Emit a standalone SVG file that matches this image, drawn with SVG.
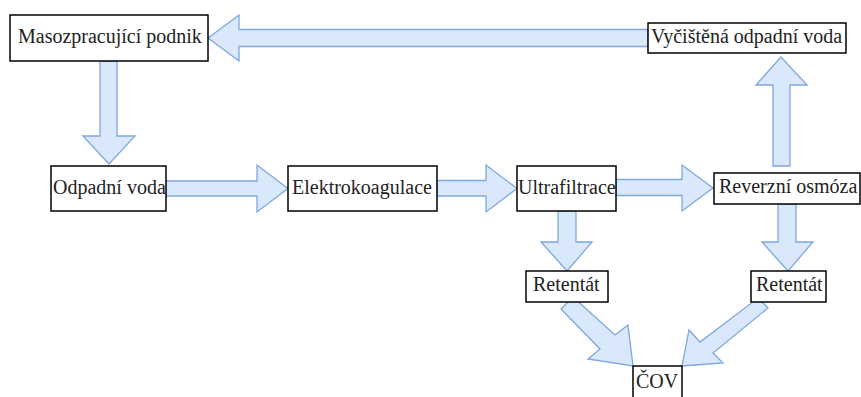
<svg xmlns="http://www.w3.org/2000/svg" width="861" height="397" viewBox="0 0 861 397">
<rect width="861" height="397" fill="#ffffff"/>
<g id="connectors" fill="#dae8fc" stroke="#7ea6e0" stroke-width="1.3">
<polygon points="208,38 239,15 239,29.5 648,29.5 648,46.5 239,46.5 239,61"/>
<polygon points="100,61 117,61 117,136 135,136 109,164 83,136 100,136"/>
<polygon points="166,181 257,181 257,165 288,188.5 257,212 257,196 166,196"/>
<polygon points="437,180.5 486,180.5 486,165 517,188.5 486,212 486,196 437,196"/>
<polygon points="616,179.5 682,179.5 682,165 713,188 682,211 682,195.5 616,195.5"/>
<polygon points="773,166 773,85 756,85 781,57 807,85 790,85 790,166"/>
<polygon points="558,211 576,211 576,242 592,242 567,271 541,242 558,242"/>
<polygon points="778,204 796,204 796,242 813,242 788,271 762,242 778,242"/>
<polygon points="561,309 573,297 615,335 628,325 633,366 588,359 600,349"/>
<polygon points="758,298 768,308 713,353 723,363 682,366 689,330 700,342"/>
</g>
<g id="nodes">
<g id="n-masozpracujici">
<rect x="10" y="15" width="198" height="46" fill="#ffffff" stroke="#000000" stroke-width="1.5"/>
<text x="18" y="43" font-size="20" font-family="Liberation Serif" fill="#222222">Masozpracující podnik</text>
</g>
<g id="n-vycistena">
<rect x="648" y="23" width="198" height="30" fill="#ffffff" stroke="#000000" stroke-width="1.5"/>
<text x="651" y="43" font-size="20" font-family="Liberation Serif" fill="#222222">Vyčištěná odpadní voda</text>
</g>
<g id="n-odpadni">
<rect x="51" y="166" width="115" height="45" fill="#ffffff" stroke="#000000" stroke-width="1.5"/>
<text x="53" y="194" font-size="20" font-family="Liberation Serif" fill="#222222">Odpadní voda</text>
</g>
<g id="n-elektro">
<rect x="288" y="166" width="149" height="45" fill="#ffffff" stroke="#000000" stroke-width="1.5"/>
<text x="292" y="194" font-size="20" font-family="Liberation Serif" fill="#222222">Elektrokoagulace</text>
</g>
<g id="n-ultra">
<rect x="517" y="166" width="99" height="45" fill="#ffffff" stroke="#000000" stroke-width="1.5"/>
<text x="518" y="194" font-size="20" font-family="Liberation Serif" fill="#222222">Ultrafiltrace</text>
</g>
<g id="n-reverzni">
<rect x="714" y="173" width="146" height="31" fill="#ffffff" stroke="#000000" stroke-width="1.5"/>
<text x="719" y="193" font-size="20" font-family="Liberation Serif" fill="#222222">Reverzní osmóza</text>
</g>
<g id="n-retentat1">
<rect x="526" y="271" width="82" height="31" fill="#ffffff" stroke="#000000" stroke-width="1.5"/>
<text x="533" y="291" font-size="20" font-family="Liberation Serif" fill="#222222">Retentát</text>
</g>
<g id="n-retentat2">
<rect x="751" y="271" width="75" height="31" fill="#ffffff" stroke="#000000" stroke-width="1.5"/>
<text x="756" y="291" font-size="20" font-family="Liberation Serif" fill="#222222">Retentát</text>
</g>
<g id="n-cov">
<rect x="633" y="366" width="49" height="40" fill="#ffffff" stroke="#000000" stroke-width="1.5"/>
<text x="636" y="388" font-size="20" font-family="Liberation Serif" fill="#222222">ČOV</text>
</g>
</g>
</svg>
